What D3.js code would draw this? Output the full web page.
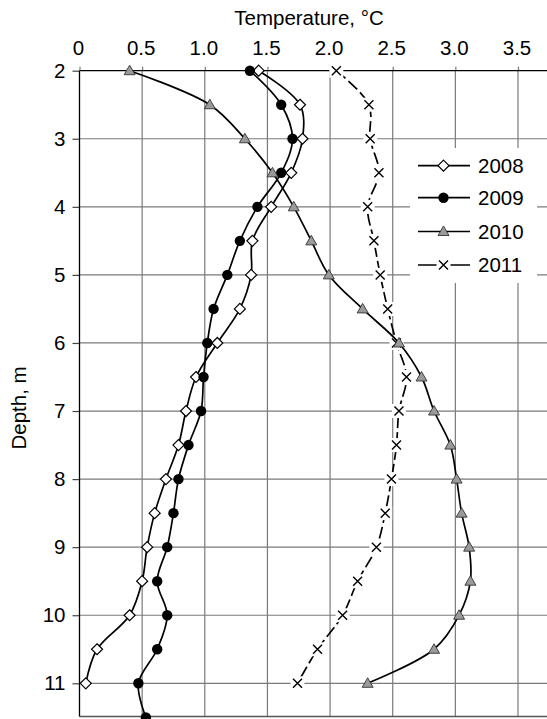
<!DOCTYPE html>
<html lang="en">
<head>
<meta charset="UTF-8" />
<title>Temperature by depth</title>
<script src="https://cdn.jsdelivr.net/npm/d3@7"></script>
<style>
  body { margin: 0; background: #fff; }
  svg { display: block; font-family: Arial, "Liberation Sans", Helvetica, sans-serif; }
</style>
</head>
<body>
<svg id="chart" width="547" height="719"></svg>
<script>
// depth of each reading, m
const depths = [2, 2.5, 3, 3.5, 4, 4.5, 5, 5.5, 6, 6.5, 7, 7.5, 8, 8.5, 9, 9.5, 10, 10.5, 11, 11.5];

// temperatures, deg C (null = no reading)
const t2008 = [1.43, 1.76, 1.78, 1.69, 1.53, 1.38, 1.37, 1.28, 1.10, 0.93, 0.85, 0.79, 0.69, 0.60, 0.54, 0.50, 0.40, 0.14, 0.05, null];
const t2009 = [1.36, 1.61, 1.70, 1.61, 1.42, 1.28, 1.18, 1.07, 1.02, 0.99, 0.97, 0.87, 0.79, 0.75, 0.70, 0.62, 0.70, 0.62, 0.47, 0.53];
const t2010 = [0.40, 1.04, 1.32, 1.54, 1.71, 1.85, 1.99, 2.26, 2.55, 2.73, 2.83, 2.96, 3.01, 3.05, 3.11, 3.12, 3.03, 2.83, 2.30, null];
const t2011 = [2.05, 2.31, 2.32, 2.39, 2.30, 2.35, 2.40, 2.46, 2.53, 2.61, 2.55, 2.53, 2.49, 2.44, 2.37, 2.22, 2.10, 1.90, 1.74, null];

const years = ["2008", "2009", "2010", "2011"];

const xTickValues = [0, 0.5, 1, 1.5, 2, 2.5, 3, 3.5];
const xTickLabels = ["0", "0.5", "1.0", "1.5", "2.0", "2.5", "3.0", "3.5"];
const yTickValues = [2, 3, 4, 5, 6, 7, 8, 9, 10, 11];
const yTickLabels = ["2", "3", "4", "5", "6", "7", "8", "9", "10", "11"];

const plotLeft = 79.5, plotTop = 70.7, plotRight = 547, plotBottom = 716.5;
const fontSize = 20.5;

const x = d3.scaleLinear().domain([0, 3.5]).range([plotLeft, 518]);
const y = d3.scaleLinear().domain([2, 11]).range([plotTop, 683.3]);

const svg = d3.select("#chart");
const gridColor = "#7a7a7a";

// gridlines
svg.append("g").selectAll("line")
  .data(xTickValues.filter(d => d > 0))
  .enter().append("line")
  .attr("x1", d => x(d)).attr("x2", d => x(d))
  .attr("y1", plotTop).attr("y2", plotBottom)
  .attr("stroke", gridColor).attr("stroke-width", 1.2);

svg.append("g").selectAll("line")
  .data(yTickValues.filter(d => d > 2))
  .enter().append("line")
  .attr("x1", plotLeft).attr("x2", plotRight)
  .attr("y1", d => y(d)).attr("y2", d => y(d))
  .attr("stroke", gridColor).attr("stroke-width", 1.2);

// bottom edge
svg.append("line")
  .attr("x1", plotLeft).attr("x2", plotRight).attr("y1", plotBottom).attr("y2", plotBottom)
  .attr("stroke", "#555").attr("stroke-width", 1.5);

// top axis
const xAxis = d3.axisTop(x)
  .tickValues(xTickValues)
  .tickFormat((d, i) => xTickLabels[i])
  .tickSizeInner(4).tickSizeOuter(0).tickPadding(11.5);

const gx = svg.append("g").attr("transform", `translate(0,${plotTop})`).call(xAxis);
gx.select(".domain").remove();
gx.append("line").attr("x1", plotLeft).attr("x2", plotRight).attr("stroke", "#000").attr("stroke-width", 1.3);
gx.selectAll(".tick line").attr("stroke", gridColor).attr("stroke-width", 1.2);
gx.selectAll(".tick text").attr("fill", "#000").attr("font-size", fontSize).attr("font-family", null).attr("dx", -1.5);

// left axis
const yAxis = d3.axisLeft(y)
  .tickValues(yTickValues)
  .tickFormat((d, i) => yTickLabels[i])
  .tickSizeInner(7).tickSizeOuter(0).tickPadding(7);

const gy = svg.append("g").attr("transform", `translate(${plotLeft},0)`).call(yAxis);
gy.select(".domain").remove();
gy.append("line").attr("y1", plotTop).attr("y2", plotBottom).attr("stroke", "#000").attr("stroke-width", 1.3);
gy.selectAll(".tick line").attr("stroke", "#444").attr("stroke-width", 1.2);
gy.selectAll(".tick text").attr("fill", "#000").attr("font-size", fontSize).attr("font-family", null);

// axis titles
svg.append("text")
  .attr("x", 309).attr("y", 25)
  .attr("text-anchor", "middle").attr("font-size", fontSize)
  .text("Temperature, °C");

svg.append("text")
  .attr("transform", "translate(26,408) rotate(-90)")
  .attr("text-anchor", "middle").attr("font-size", fontSize)
  .text("Depth, m");

// series
const series = [
  { name: years[0], values: t2008, marker: "diamond", dash: null },
  { name: years[1], values: t2009, marker: "circle", dash: null },
  { name: years[2], values: t2010, marker: "triangle", dash: null },
  { name: years[3], values: t2011, marker: "cross", dash: "12,4" }
];

const line = d3.line()
  .x(d => x(d.t)).y(d => y(d.d))
  .curve(d3.curveCatmullRom.alpha(0.5));

const pts = s => depths.map((d, i) => ({ d: d, t: s.values[i] })).filter(p => p.t != null);

function drawMarker(g, type, cx, cy) {
  if (type === "diamond") {
    g.append("path")
      .attr("d", `M${cx},${cy - 5.5}L${cx + 5.5},${cy}L${cx},${cy + 5.5}L${cx - 5.5},${cy}Z`)
      .attr("fill", "#fff").attr("stroke", "#000").attr("stroke-width", 1.2);
  } else if (type === "circle") {
    g.append("circle").attr("cx", cx).attr("cy", cy).attr("r", 5.2).attr("fill", "#000");
  } else if (type === "triangle") {
    g.append("path")
      .attr("d", `M${cx},${cy - 5.5}L${cx + 5.5},${cy + 4}L${cx - 5.5},${cy + 4}Z`)
      .attr("fill", "#9a9a9a").attr("stroke", "#333").attr("stroke-width", 0.9);
  } else {
    g.append("rect").attr("x", cx - 7).attr("y", cy - 7).attr("width", 14).attr("height", 14).attr("fill", "#fff");
    g.append("path")
      .attr("d", `M${cx - 4.5},${cy - 4.5}L${cx + 4.5},${cy + 4.5}M${cx + 4.5},${cy - 4.5}L${cx - 4.5},${cy + 4.5}`)
      .attr("stroke", "#000").attr("stroke-width", 1.4);
  }
}

// draw 2011 first so the other series sit on top
[series[3], series[0], series[1], series[2]].forEach(s => {
  const g = svg.append("g");
  g.append("path")
    .attr("d", line(pts(s)))
    .attr("fill", "none").attr("stroke", "#000").attr("stroke-width", 1.7)
    .attr("stroke-dasharray", s.dash);
  pts(s).forEach(p => drawMarker(g, s.marker, x(p.t), y(p.d)));
});

// legend
const lg = svg.append("g");
lg.append("rect").attr("x", 410).attr("y", 148).attr("width", 127).attr("height", 135).attr("fill", "#fff");
const rowY = [165.7, 197.7, 231.5, 265];
series.forEach((s, i) => {
  const cy = rowY[i];
  lg.append("line").attr("x1", 418).attr("x2", 470).attr("y1", cy).attr("y2", cy)
    .attr("stroke", "#000").attr("stroke-width", 1.7);
  drawMarker(lg, s.marker, 443.5, cy);
  lg.append("text").attr("x", 478).attr("y", cy).attr("dy", "0.35em")
    .attr("font-size", fontSize).text(s.name);
});
</script>
</body>
</html>
